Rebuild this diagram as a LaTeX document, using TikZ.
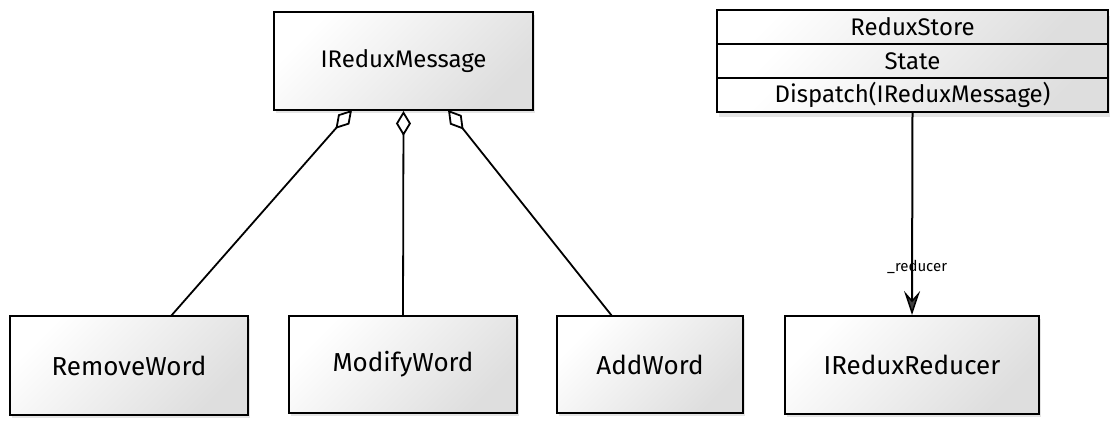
\documentclass[tikz,border=0pt]{standalone}
\usepackage{fontspec}
\setmainfont{Fira Sans}
\usetikzlibrary{arrows.meta,shadows}
\begin{document}
\begin{tikzpicture}[x=1pt,y=-1pt,
  umlbox/.style={draw=black, line width=2pt, rectangle,
    left color=white, right color=black!13, shading angle=45,
    drop shadow={shadow xshift=2pt, shadow yshift=-3pt, fill=black!30, opacity=0.35},
    font=\fontsize{24}{28}\selectfont, inner sep=0pt},
  storerow/.style={draw=black, line width=2pt, rectangle,
    left color=white, right color=black!13, shading angle=45,
    font=\fontsize{24}{28}\selectfont, inner sep=0pt,
    minimum width=391pt, minimum height=34pt},
  aggr/.style={draw=black, line width=1.8pt, {Diamond[open, length=25pt, width=15pt, line width=1.8pt]}-},
  assoc/.style={draw=black, line width=2pt, -{Stealth[length=24pt, width=16pt, inset=9pt, fill=black!75, line width=1.5pt]}},
  lbl/.style={font=\fontsize{15}{17}\selectfont, inner sep=1pt}
]
\useasboundingbox (0,0) rectangle (1114,423);
\node[umlbox, minimum width=259pt, minimum height=98pt] (msg) at (403.5,61) {IReduxMessage};
\fill[black!30, opacity=0.35] (719,16) rectangle (1110,117);
\node[storerow] (storeA) at (912.5,27) {ReduxStore};
\node[storerow] (storeB) at (912.5,61) {State};
\node[storerow] (storeC) at (912.5,95) {Dispatch(IReduxMessage)};
\node[umlbox, minimum width=238pt, minimum height=99pt, font=\fontsize{26}{30}\selectfont] (rem) at (129,365.5) {RemoveWord};
\node[umlbox, minimum width=228pt, minimum height=97pt, font=\fontsize{26}{30}\selectfont] (mod) at (403,364.5) {ModifyWord};
\node[umlbox, minimum width=186pt, minimum height=97pt, font=\fontsize{26}{30}\selectfont] (add) at (650,364.5) {AddWord};
\node[umlbox, minimum width=254pt, minimum height=98pt, font=\fontsize{26}{30}\selectfont] (red) at (912,365) {IReduxReducer};
\coordinate (remt) at (171,316);
\coordinate (addt) at (612,316);
\coordinate (msgl) at (352,110);
\coordinate (msgr) at (448,110);
\draw[aggr] (msgl) -- (remt);
\draw[aggr] (msg.south) -- (mod.north);
\draw[aggr] (msgr) -- (addt);
\draw[assoc] (storeC.south) -- (red.north) node[lbl, pos=0.76, xshift=5pt] (rlbl) {\_reducer};
\end{tikzpicture}
\end{document}
